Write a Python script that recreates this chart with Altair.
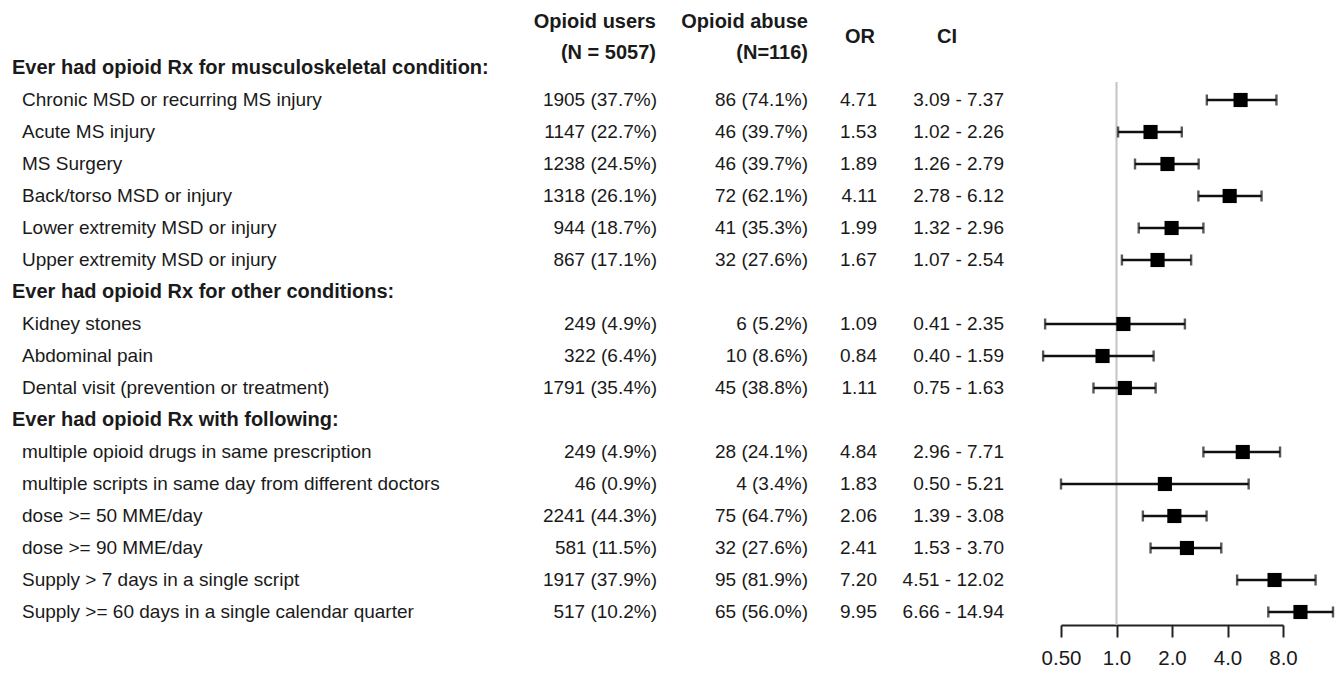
import altair as alt
import pandas as pd

# ---------------- data ----------------
sections = [
    "Ever had opioid Rx for musculoskeletal condition:",
    "Ever had opioid Rx for other conditions:",
    "Ever had opioid Rx with following:",
]
section_sizes = [6, 3, 6]

labels = [
    "Chronic MSD or recurring MS injury",
    "Acute MS injury",
    "MS Surgery",
    "Back/torso MSD or injury",
    "Lower extremity MSD or injury",
    "Upper extremity MSD or injury",
    "Kidney stones",
    "Abdominal pain",
    "Dental visit (prevention or treatment)",
    "multiple opioid drugs in same prescription",
    "multiple scripts in same day from different doctors",
    "dose >= 50 MME/day",
    "dose >= 90 MME/day",
    "Supply > 7 days in a single script",
    "Supply >= 60 days in a single calendar quarter",
]
users_n = [1905, 1147, 1238, 1318, 944, 867, 249, 322, 1791, 249, 46, 2241, 581, 1917, 517]
users_pct = [37.7, 22.7, 24.5, 26.1, 18.7, 17.1, 4.9, 6.4, 35.4, 4.9, 0.9, 44.3, 11.5, 37.9, 10.2]
abuse_n = [86, 46, 46, 72, 41, 32, 6, 10, 45, 28, 4, 75, 32, 95, 65]
abuse_pct = [74.1, 39.7, 39.7, 62.1, 35.3, 27.6, 5.2, 8.6, 38.8, 24.1, 3.4, 64.7, 27.6, 81.9, 56.0]
odds = [4.71, 1.53, 1.89, 4.11, 1.99, 1.67, 1.09, 0.84, 1.11, 4.84, 1.83, 2.06, 2.41, 7.20, 9.95]
ci_lo = [3.09, 1.02, 1.26, 2.78, 1.32, 1.07, 0.41, 0.40, 0.75, 2.96, 0.50, 1.39, 1.53, 4.51, 6.66]
ci_hi = [7.37, 2.26, 2.79, 6.12, 2.96, 2.54, 2.35, 1.59, 1.63, 7.71, 5.21, 3.08, 3.70, 12.02, 14.94]

axis_ticks = [0.5, 1, 2, 4, 8]
ref_value = [1.0]

# ---------------- tables ----------------
sec_rows, item_rows = [], []
r = 0
i = 0
for s, n in zip(sections, section_sizes):
    sec_rows.append({"row": r, "text": s})
    r += 1
    for _ in range(n):
        item_rows.append({
            "row": r,
            "label": labels[i],
            "users": f"{users_n[i]} ({users_pct[i]:.1f}%)",
            "abuse": f"{abuse_n[i]} ({abuse_pct[i]:.1f}%)",
            "or_txt": f"{odds[i]:.2f}",
            "ci_txt": f"{ci_lo[i]:.2f} - {ci_hi[i]:.2f}",
            "or": odds[i],
            "lo": ci_lo[i],
            "hi": ci_hi[i],
        })
        r += 1
        i += 1
n_rows = r

sec_df = pd.DataFrame(sec_rows)
item_df = pd.DataFrame(item_rows)
ref_df = pd.DataFrame({"ref": ref_value})

FONT = "Liberation Sans"
TXT = "#1a1a1a"

xs = alt.Scale(type="log", domain=[0.5, 8], range=[1053, 1275], nice=False, clamp=False)
ys = alt.Scale(domain=[0, n_rows - 1], range=[60, 604], nice=False, zero=False)

x_axis = alt.Axis(
    values=axis_ticks,
    labelExpr="datum.value < 0.9 ? format(datum.value, '.2f') : format(datum.value, '.1f')",
    title=None, grid=False, domainColor="#222", domainWidth=2, tickColor="#222",
    tickWidth=2, tickSize=12, labelFontSize=20.5, labelFont=FONT, labelColor=TXT,
    labelPadding=11, labelFlush=False, labelOverlap=False, labelAlign="center",
)

Y = alt.Y("row:Q", scale=ys, axis=None)

def col_text(field, xpix, align, bold=False, size=19, data=item_df):
    return alt.Chart(data).mark_text(
        align=align, baseline="middle", font=FONT, fontSize=size,
        fontWeight="bold" if bold else "normal", color=TXT,
    ).encode(x=alt.value(xpix), y=Y, text=f"{field}:N")

sec_layer = col_text("text", 4, "left", bold=True, size=20, data=sec_df)
label_layer = col_text("label", 14, "left")
users_layer = col_text("users", 649, "right")
abuse_layer = col_text("abuse", 800, "right")
or_layer = col_text("or_txt", 869, "right")
ci_layer = col_text("ci_txt", 996, "right")

def header(txt, xpix, ypix, align):
    return alt.Chart(ref_df).mark_text(
        align=align, baseline="middle", font=FONT, fontSize=20, fontWeight="bold", color=TXT,
    ).encode(x=alt.value(xpix), y=alt.value(ypix), text=alt.value(txt))

headers = [
    header("Opioid users", 648, 14, "right"),
    header("(N = 5057)", 648, 45, "right"),
    header("Opioid abuse", 800, 14, "right"),
    header("(N=116)", 800, 45, "right"),
    header("OR", 852, 29, "center"),
    header("CI", 939, 29, "center"),
]

ref_rule = alt.Chart(ref_df).mark_rule(color="#c4c4c4", strokeWidth=2).encode(
    x=alt.X("ref:Q", scale=xs, axis=x_axis), y=alt.value(74), y2=alt.value(617)
)
ci_rule = alt.Chart(item_df).mark_rule(color="#111", strokeWidth=2.6).encode(
    x=alt.X("lo:Q", scale=xs, axis=x_axis), x2="hi:Q", y=Y
)
cap_lo = alt.Chart(item_df).mark_tick(color="#111", orient="vertical", size=11, thickness=2.4).encode(
    x=alt.X("lo:Q", scale=xs, axis=x_axis), y=Y
)
cap_hi = alt.Chart(item_df).mark_tick(color="#111", orient="vertical", size=11, thickness=2.4).encode(
    x=alt.X("hi:Q", scale=xs, axis=x_axis), y=Y
)
squares = alt.Chart(item_df).mark_square(color="#000", opacity=1, size=200).encode(
    x=alt.X("or:Q", scale=xs, axis=x_axis), y=Y
)

chart = alt.layer(
    ref_rule, ci_rule, cap_lo, cap_hi, squares,
    sec_layer, label_layer, users_layer, abuse_layer, or_layer, ci_layer, *headers,
).properties(width=1328, height=617, padding=0).configure_view(stroke=None)

chart.save("out.html", embed_options={"renderer": "svg", "actions": False})
